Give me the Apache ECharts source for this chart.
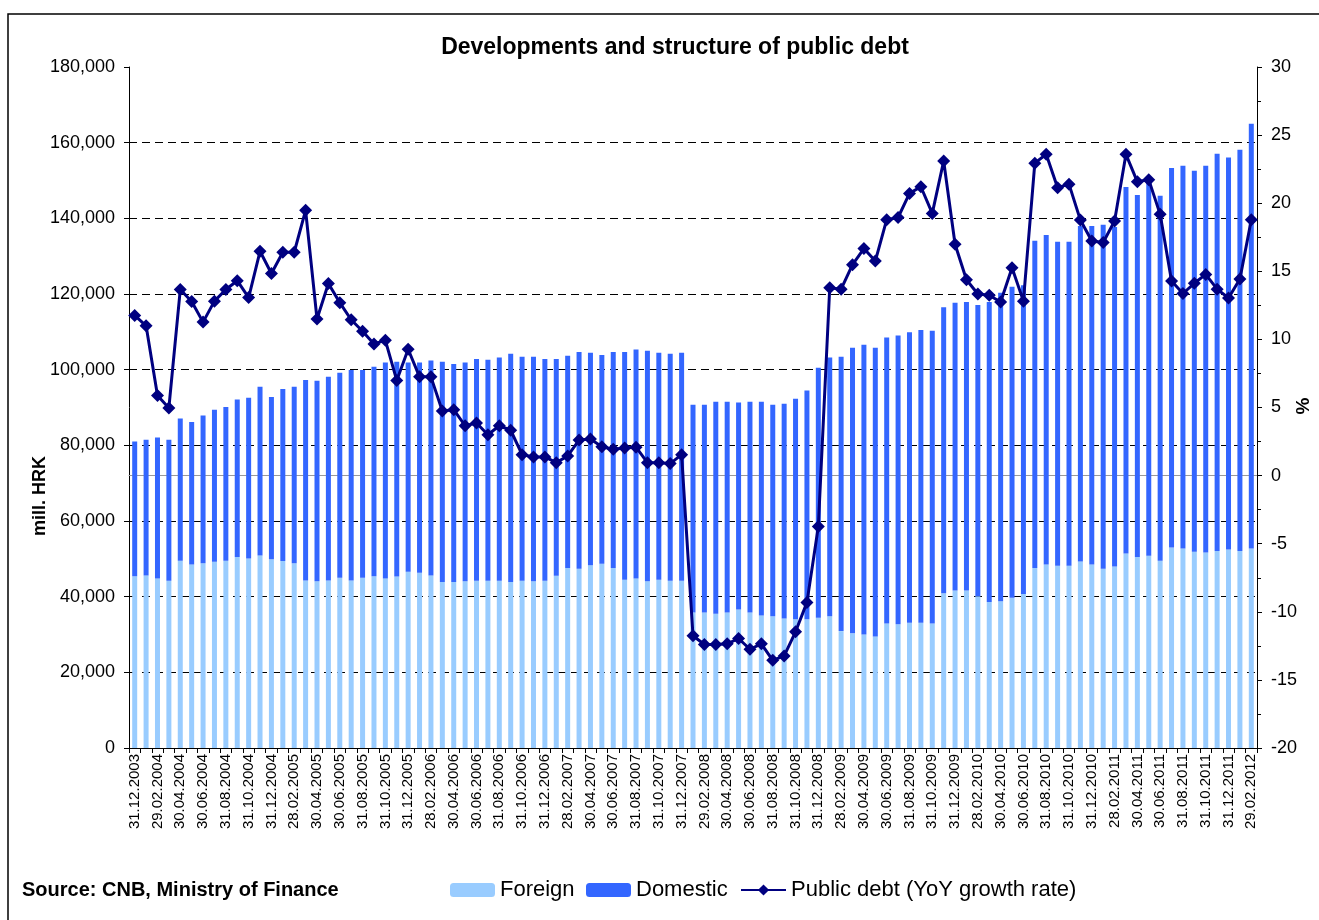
<!DOCTYPE html>
<html>
<head>
<meta charset="utf-8">
<title>Developments and structure of public debt</title>
<script src="https://cdn.jsdelivr.net/npm/echarts@6/dist/echarts.min.js"></script>
<style>
  html, body { margin: 0; padding: 0; background: #fff; }
  #chart { width: 1319px; height: 920px; }
</style>
</head>
<body>
<div id="chart"></div>
<script>
// month-end dates, 31.12.2003 .. 29.02.2012
const categories = (function () {
  const out = ['31.12.2003']
  for (let y = 2004; y <= 2012; y++) {
    for (let m = 1; m <= 12; m++) {
      if (y === 2012 && m > 2) break
      const last = new Date(y, m, 0).getDate()
      out.push(last + '.' + (m < 10 ? '0' + m : m) + '.' + y)
    }
  }
  return out
})()

// mill. HRK
const foreign = [
  45400, 45600, 44800, 44200, 49500, 48500, 48800, 49200, 49500, 50500,
  50100, 50900, 49900, 49400, 48800, 44300, 44100, 44300, 45000, 44300,
  45000, 45400, 44800, 45300, 46600, 46300, 45600, 43900, 43900, 44100,
  44200, 44200, 44200, 43900, 44200, 44100, 44200, 45500, 47600, 47400,
  48300, 48700, 47600, 44500, 44800, 44100, 44500, 44200, 44200, 35800,
  35800, 35500, 35800, 36600, 35800, 35000, 34800, 34200, 34000, 34000,
  34400, 34800, 30900, 30300, 30000, 29500, 32900, 32700, 33100, 33100,
  32900, 40900, 41600, 41600, 40100, 38600, 38800, 39700, 40700, 47600,
  48500, 48200, 48200, 49300, 48500, 47400, 48000, 51400, 50500, 50800,
  49500, 53000, 52700, 51900, 51700, 52100, 52500, 52100, 52700
]
const domestic = [
  35600, 35900, 37300, 37300, 37600, 37700, 39100, 40200, 40600, 41600,
  42500, 44600, 42900, 45500, 46700, 53000, 53000, 53800, 54200, 55600,
  54900, 55400, 57100, 56800, 55300, 55600, 56800, 58200, 57600, 57800,
  58600, 58400, 59000, 60300, 59200, 59300, 58600, 57300, 56100, 57300,
  56200, 55200, 57100, 60200, 60500, 60900, 60000, 60000, 60300, 54900,
  54900, 56000, 55700, 54700, 55700, 56500, 55900, 56800, 58300, 60500,
  66100, 68400, 72500, 75500, 76600, 76300, 75600, 76300, 76800, 77400,
  77400, 75600, 76100, 76300, 77000, 79300, 81500, 82200, 81600, 86500,
  87100, 85600, 85600, 88700, 89500, 90900, 89700, 96900, 95700, 99000,
  96500, 100300, 101200, 100700, 102200, 105000, 103600, 106000, 112300
]
// %
const growth = [
  11.76, 11.0, 5.88, 4.97, 13.66, 12.78, 11.27, 12.81, 13.66, 14.31,
  13.07, 16.47, 14.84, 16.4, 16.4, 19.48, 11.5, 14.1, 12.7, 11.44,
  10.6, 9.67, 9.93, 6.99, 9.28, 7.25, 7.25, 4.74, 4.84, 3.66,
  3.86, 3.0, 3.66, 3.33, 1.54, 1.37, 1.37, 0.95, 1.44, 2.61,
  2.68, 2.12, 1.93, 2.03, 2.09, 0.95, 0.95, 0.88, 1.54, -11.76,
  -12.4, -12.4, -12.35, -11.96, -12.75, -12.35, -13.56, -13.24, -11.47, -9.31,
  -3.73, 13.79, 13.69, 15.49, 16.67, 15.75, 18.79, 18.95, 20.72, 21.21,
  19.25, 23.1, 16.99, 14.38, 13.33, 13.24, 12.75, 15.26, 12.81, 22.94,
  23.59, 21.14, 21.4, 18.76, 17.22, 17.12, 18.69, 23.59, 21.57, 21.73,
  19.18, 14.28, 13.37, 14.12, 14.77, 13.69, 13.04, 14.44, 18.79
]

const font = 'Arial, "Liberation Sans", sans-serif'
const chart = echarts.init(document.getElementById('chart'), null, { renderer: 'canvas' })

// one legend box per item, so each can sit where the original puts it
function legendItem(name, left) {
  return {
    left: left,
    top: 874,
    itemWidth: 45,
    itemHeight: 14,
    itemGap: 0,
    textStyle: { fontFamily: font, fontSize: 22, color: '#000' },
    data: [name]
  }
}

chart.setOption({
  animation: false,
  textStyle: { fontFamily: font, color: '#000' },
  title: {
    text: 'Developments and structure of public debt',
    left: 670,
    textAlign: 'center',
    top: 31,
    textStyle: { fontFamily: font, fontSize: 23, fontWeight: 'bold', color: '#000' }
  },
  grid: { left: 129, right: 62, top: 67, bottom: 172, containLabel: false, outerBoundsMode: 'none' },
  legend: [
    legendItem('Foreign', 445),
    legendItem('Domestic', 581),
    legendItem('Public debt (YoY growth rate)', 735)
  ],
  xAxis: [{
    type: 'category',
    data: categories,
    boundaryGap: true,
    axisLine: { lineStyle: { color: '#000', width: 1 } },
    axisTick: { show: true, interval: 0, length: 5, lineStyle: { color: '#000' } },
    axisLabel: {
      interval: 1,
      rotate: 90,
      margin: 6,
      fontFamily: font,
      fontSize: 15,
      color: '#000'
    },
    splitLine: { show: false }
  }, {
    type: 'category',
    data: categories,
    position: 'top',
    axisLine: { lineStyle: { color: '#999', width: 1 } },
    axisTick: { show: false },
    axisLabel: { show: false }
  }],
  yAxis: [{
    type: 'value',
    min: 0,
    max: 180000,
    interval: 20000,
    axisLine: { show: true, lineStyle: { color: '#000', width: 1 } },
    axisTick: { show: true, length: 5, lineStyle: { color: '#000' } },
    axisLabel: {
      fontFamily: font,
      fontSize: 18,
      color: '#000',
      margin: 14,
      formatter: v => v.toLocaleString('en-US')
    },
    splitLine: {
      show: true,
      showMinLine: false,
      showMaxLine: false,
      lineStyle: { color: '#000', type: [8, 5], width: 1 }
    }
  }, {
    type: 'value',
    min: -20,
    max: 30,
    interval: 5,
    axisLine: { show: true, lineStyle: { color: '#000', width: 1 } },
    axisTick: { show: true, length: 5, lineStyle: { color: '#000' } },
    minorTick: { show: true, splitNumber: 2, length: 4, lineStyle: { color: '#000' } },
    axisLabel: { fontFamily: font, fontSize: 18, color: '#000', margin: 14 },
    splitLine: { show: false }
  }],
  series: [{
    name: 'Foreign',
    type: 'bar',
    stack: 'debt',
    barWidth: 5,
    itemStyle: { color: '#99CCFF' },
    data: foreign
  }, {
    name: 'Domestic',
    type: 'bar',
    stack: 'debt',
    barWidth: 5,
    itemStyle: { color: '#3366FF' },
    data: domestic
  }, {
    name: 'Public debt (YoY growth rate)',
    type: 'line',
    yAxisIndex: 1,
    z: 5,
    symbol: 'diamond',
    symbolSize: 13,
    showAllSymbol: true,
    lineStyle: { color: '#000080', width: 3 },
    itemStyle: { color: '#000080' },
    data: growth
  }],
  graphic: [{
    type: 'rect',
    shape: { x: 8, y: 14, width: 1330, height: 930 },
    style: { fill: 'none', stroke: '#000', lineWidth: 1.5 },
    silent: true
  }, {
    type: 'text',
    x: 40,
    y: 496,
    rotation: Math.PI / 2,
    style: {
      text: 'mill. HRK',
      font: 'bold 18px ' + font,
      fill: '#000',
      align: 'center',
      verticalAlign: 'middle'
    }
  }, {
    type: 'text',
    x: 1304,
    y: 406,
    rotation: Math.PI / 2,
    style: {
      text: '%',
      font: 'bold 19px ' + font,
      fill: '#000',
      align: 'center',
      verticalAlign: 'middle'
    }
  }, {
    type: 'text',
    left: 22,
    top: 880,
    style: {
      text: 'Source: CNB, Ministry of Finance',
      font: 'bold 20px ' + font,
      fill: '#000'
    }
  }]
})
</script>
</body>
</html>
